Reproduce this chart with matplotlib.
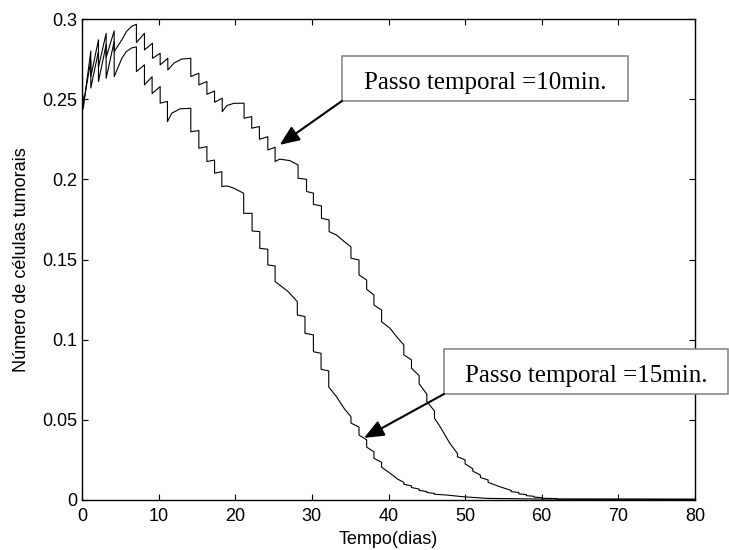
import matplotlib
matplotlib.use("Agg")
import matplotlib.pyplot as plt
from matplotlib.patches import Rectangle

# curva "Passo temporal =10min." (a de cima)
t_10 = [0.0, 0.15, 0.15, 1.15, 1.15, 2.15, 2.15, 3.15, 3.15, 4.2, 4.2,
        5.2, 5.8, 6.5, 7.1, 7.1,
        8.15, 8.15, 9.2, 9.2, 10.2, 10.2, 11.2, 11.2, 12.0, 13.0, 14.2, 14.2,
        15.25, 15.25, 16.3, 16.3, 17.3, 17.3, 18.3, 18.3, 18.9, 19.8, 21.15, 21.15,
        22.15, 22.15, 23.15, 23.15, 24.25, 24.25, 25.2, 25.2, 25.8, 27.1, 28.2, 28.2,
        29.3, 29.3, 30.2, 30.2, 31.25, 31.25, 32.25, 32.25, 33.2, 34.5, 35.1, 35.1,
        36.15, 36.15, 37.15, 37.15, 38.1, 38.1, 39.1, 39.1, 40.2, 41.05, 42.0, 42.0,
        43.0, 43.0, 44.0, 44.0, 45.0, 45.0, 46.0, 46.0, 46.7, 48.0, 49.0, 49.0,
        50.0, 50.0, 51.0, 51.0, 52.0, 52.0, 53.0, 53.0, 54.5, 56.0, 56.0,
        57.0, 57.0, 58.0, 58.0, 59.0, 59.0, 60.0, 60.0, 62.0, 62.0, 80.0]
n_10 = [0.250, 0.250, 0.244, 0.280, 0.264, 0.287, 0.270, 0.291, 0.276, 0.2926, 0.2797,
        0.287, 0.2922, 0.2955, 0.2967, 0.2853,
        0.2911, 0.2807, 0.2849, 0.2755, 0.2786, 0.2714, 0.2755, 0.2682, 0.2725, 0.2750, 0.2755, 0.2641,
        0.2662, 0.2589, 0.2610, 0.2530, 0.2551, 0.2481, 0.2506, 0.2422, 0.2460, 0.2474, 0.2475, 0.2381,
        0.2391, 0.2319, 0.2329, 0.2250, 0.2266, 0.2183, 0.2200, 0.2111, 0.2126, 0.2117, 0.2090, 0.2007,
        0.2000, 0.1924, 0.1914, 0.1844, 0.1834, 0.1757, 0.1747, 0.1674, 0.1653, 0.1601, 0.1580, 0.1508,
        0.1497, 0.1404, 0.1372, 0.1314, 0.1279, 0.1216, 0.1185, 0.1112, 0.1071, 0.1019, 0.0967, 0.0905,
        0.0874, 0.0822, 0.0775, 0.0725, 0.0660, 0.0615, 0.0555, 0.0510, 0.0460, 0.0354, 0.0290, 0.0270,
        0.0250, 0.0225, 0.0195, 0.0180, 0.0155, 0.0140, 0.0125, 0.0110, 0.0083, 0.0060, 0.0052,
        0.0047, 0.0038, 0.0034, 0.0027, 0.0023, 0.0018, 0.0015, 0.0011, 0.0009, 0.0005, 0.0004]

# curva "Passo temporal =15min." (a de baixo)
t_15 = [0.0, 0.15, 0.15, 1.15, 1.15, 2.15, 2.15, 3.15, 3.15, 4.2, 4.2,
        5.2, 5.8, 6.5, 7.1, 7.1,
        8.15, 8.15, 9.15, 9.15, 10.2, 10.2, 11.15, 11.15, 11.7, 12.8, 14.2, 14.2,
        15.25, 15.25, 16.3, 16.3, 17.3, 17.3, 18.25, 18.25, 18.9, 19.8, 21.1, 21.1,
        22.2, 22.2, 23.2, 23.2, 24.25, 24.25, 25.2, 25.2, 25.8, 26.9, 28.1, 28.1,
        29.1, 29.1, 30.2, 30.2, 31.2, 31.2, 32.2, 32.2, 33.2, 34.3, 35.1, 35.1,
        36.15, 36.15, 37.15, 37.15, 38.1, 38.1, 39.1, 39.1, 40.2, 41.2, 42.0, 42.0,
        43.0, 43.0, 44.0, 44.0, 45.0, 45.0, 46.0, 46.0, 47.6, 49.8, 53.0, 60.0, 80.0]
n_15 = [0.252, 0.252, 0.246, 0.274, 0.257, 0.280, 0.261, 0.284, 0.263, 0.286, 0.264,
        0.2755, 0.2797, 0.2820, 0.2826, 0.2672,
        0.2714, 0.2589, 0.2640, 0.2535, 0.2579, 0.2475, 0.2486, 0.2360, 0.2412, 0.2440, 0.2443, 0.2297,
        0.2304, 0.2194, 0.2204, 0.2111, 0.2120, 0.2038, 0.2048, 0.1955, 0.1959, 0.1945, 0.1913, 0.1788,
        0.1788, 0.1678, 0.1674, 0.1570, 0.1564, 0.1466, 0.1460, 0.1362, 0.1341, 0.1300, 0.1237, 0.1154,
        0.1144, 0.1040, 0.1030, 0.0925, 0.0915, 0.0815, 0.0805, 0.0705, 0.0645, 0.0565, 0.0520, 0.0480,
        0.0455, 0.0405, 0.0375, 0.0330, 0.0300, 0.0260, 0.0235, 0.0205, 0.0167, 0.0130, 0.0110, 0.0098,
        0.0088, 0.0078, 0.0068, 0.0060, 0.0053, 0.0047, 0.0041, 0.0036, 0.0031, 0.0020, 0.0010, 0.0006, 0.0005]

x_ticks = [0, 10, 20, 30, 40, 50, 60, 70, 80]
y_ticks = [0, 0.05, 0.1, 0.15, 0.2, 0.25, 0.3]
y_tick_labels = ["0", "0.05", "0.1", "0.15", "0.2", "0.25", "0.3"]

label_10 = "Passo temporal =10min."
label_15 = "Passo temporal =15min."

plt.rcParams["font.family"] = ["Liberation Sans", "DejaVu Sans"]

fig = plt.figure(figsize=(7.29, 5.5), dpi=100)
ax = fig.add_axes([82 / 729, 50 / 550, 613 / 729, 481 / 550])

ax.plot(t_10, n_10, color="black", lw=0.8)
ax.plot(t_15, n_15, color="black", lw=0.8)

ax.set_xlim(0, 80)
ax.set_ylim(0, 0.3)
ax.set_xticks(x_ticks)
ax.set_yticks(y_ticks)
ax.set_yticklabels(y_tick_labels)
ax.tick_params(direction="in", top=True, right=True, length=4, width=0.8, labelsize=13)
ax.tick_params(axis="x", pad=6)
ax.tick_params(axis="y", pad=3.5)
for s in ax.spines.values():
    s.set_linewidth(1.0)

ax.set_xlabel("Tempo(dias)", fontsize=13, labelpad=4)
ax.set_ylabel("Número de células tumorais", fontsize=13, labelpad=9)

# caixas de texto com seta
arrow = dict(arrowstyle="-|>,head_length=0.6,head_width=0.25", mutation_scale=20,
             color="black", lw=1.5, shrinkA=0, shrinkB=0)
boxes = [
    (label_10, (33.93, 0.2489), 37.33, 0.0281, 0.2566, (25.8, 0.2215)),
    (label_15, (47.24, 0.0661), 37.06, 0.0281, 0.0738, (36.8, 0.0387)),
]
for txt, (bx, by), bw, bh, base, tip in boxes:
    ax.add_patch(Rectangle((bx, by), bw, bh, facecolor="white", edgecolor="#808080",
                           lw=1.1, clip_on=False, zorder=3))
    ax.text(bx + bw / 2, base, txt, ha="center", va="baseline", fontsize=18,
            family=["Liberation Serif", "DejaVu Serif"], zorder=4, clip_on=False)
    ax.annotate("", xy=tip, xytext=(bx, by), arrowprops=arrow, zorder=5)

fig.savefig("out.png", dpi=100)
